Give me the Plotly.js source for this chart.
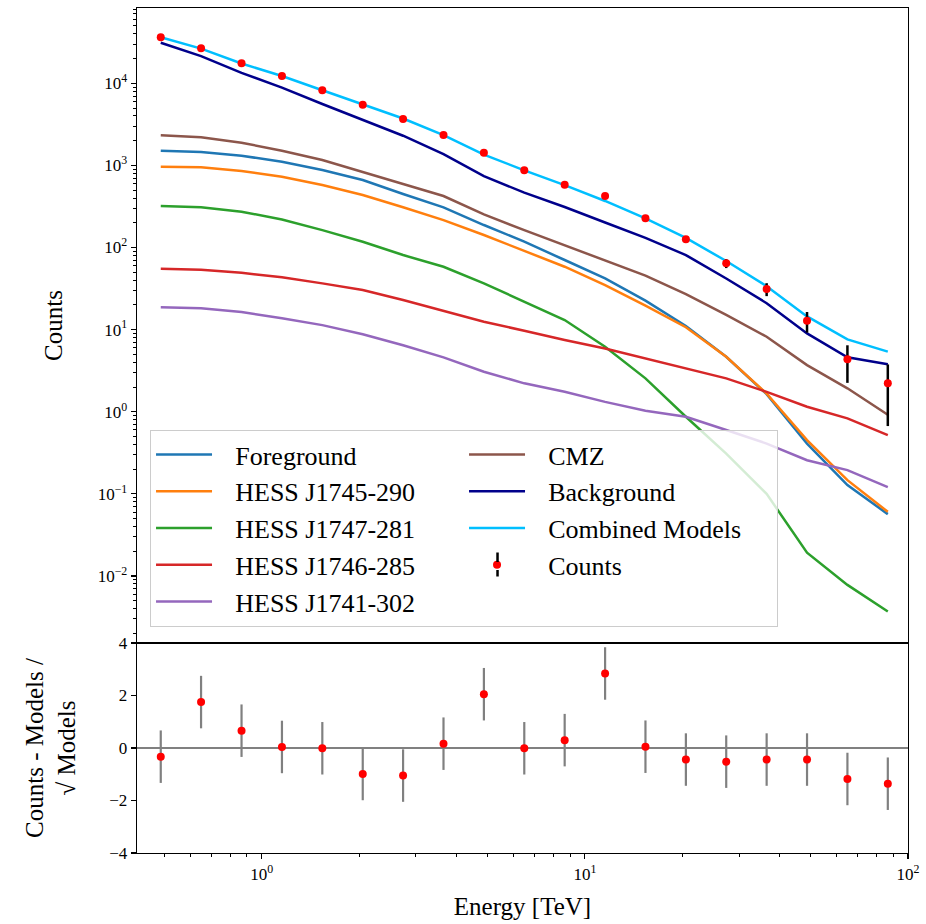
<!DOCTYPE html>
<html>
<head>
<meta charset="utf-8">
<script src="https://cdn.plot.ly/plotly-3.0.1.min.js"></script>
<style>html,body{margin:0;padding:0;background:#fff;}#chart{width:926px;height:924px;}</style>
</head>
<body>
<div id="chart"></div>
<script>
// Energy bin centres [TeV]
const energy = [0.487, 0.649, 0.866, 1.155, 1.540, 2.054, 2.738, 3.652, 4.870, 6.494, 8.660, 11.55, 15.40, 20.54, 27.38, 36.52, 48.70, 64.94, 86.60];

// Model components (counts per bin)
const foreground = [1510, 1455, 1312, 1109, 879, 664, 449, 309, 188, 118, 70.5, 42.2, 22.6, 11.1, 4.68, 1.64, 0.41, 0.128, 0.0567];
const j1745 = [964, 948, 855, 728, 577, 436, 309, 216, 142, 91.4, 58.4, 34.9, 19.6, 10.7, 4.68, 1.66, 0.452, 0.147, 0.0605];
const j1747 = [320, 309, 273, 220, 163, 117.6, 81, 58.4, 36.6, 21.9, 13.1, 6.2, 2.55, 0.87, 0.31, 0.1, 0.0192, 0.0078, 0.0037];
const j1746 = [55.2, 53.7, 49.3, 43.4, 36.6, 30.4, 23.0, 17.0, 12.5, 9.7, 7.47, 5.9, 4.45, 3.38, 2.55, 1.75, 1.15, 0.83, 0.52];
const j1741 = [18.7, 18.2, 16.4, 13.8, 11.35, 8.8, 6.46, 4.6, 3.07, 2.22, 1.75, 1.32, 1.03, 0.87, 0.6, 0.41, 0.257, 0.195, 0.121];
const cmz = [2330, 2200, 1890, 1510, 1164, 838, 593, 424, 253, 163, 107, 70.5, 45.5, 27.1, 15.1, 8.2, 3.7, 1.93, 0.92];
const background = [31200, 21450, 13400, 8870, 5600, 3600, 2300, 1370, 740, 466, 312, 202, 131, 81, 42, 21, 9.0, 4.6, 3.8];
const combined = [36360, 26410, 17410, 12270, 8220, 5550, 3730, 2336, 1355, 871, 575, 369, 226, 131, 68.5, 33.8, 14.5, 7.6, 5.4];

// Observed counts and errors
const counts = [36300, 26700, 17500, 12270, 8220, 5480, 3670, 2344, 1430, 871, 582, 424, 227, 126, 64.2, 31.2, 12.8, 4.35, 2.22];
const countsErr = [190.5, 163.4, 132.3, 110.8, 90.7, 74.0, 60.6, 48.4, 37.8, 29.5, 24.1, 20.6, 15.1, 11.2, 8.0, 5.6, 3.6, 2.1, 1.55];

// Residuals (Counts - Models)/sqrt(Models)
const residual = [-0.33, 1.75, 0.66, 0.04, -0.01, -0.99, -1.05, 0.165, 2.05, -0.01, 0.30, 2.84, 0.05, -0.44, -0.52, -0.44, -0.44, -1.18, -1.36];
const residualErr = [1, 1, 1, 1, 1, 1, 1, 1, 1, 1, 1, 1, 1, 1, 1, 1, 1, 1, 1];

// Legend labels
const seriesNames = ['Foreground', 'HESS J1745-290', 'HESS J1747-281', 'HESS J1746-285', 'HESS J1741-302', 'CMZ', 'Background', 'Combined Models', 'Counts'];

// Tick labels
const countTickVals = [0.01, 0.1, 1, 10, 100, 1000, 10000];
const countTickText = ['10<sup>\u22122</sup>', '10<sup>\u22121</sup>', '10<sup>0</sup>', '10<sup>1</sup>', '10<sup>2</sup>', '10<sup>3</sup>', '10<sup>4</sup>'];
const energyTickVals = [1, 10, 100];
const energyTickText = ['10<sup>0</sup>', '10<sup>1</sup>', '10<sup>2</sup>'];
const residualTickVals = [-4, -2, 0, 2, 4];

const FONT = 'Liberation Serif, Times New Roman, serif';
const LW = 2.5;
const PAD = '\u2002\u2009';

function line(i, y, color, rank) {
  return {x: energy, y: y, name: PAD + seriesNames[i], type: 'scatter', mode: 'lines',
          line: {color: color, width: LW}, xaxis: 'x', yaxis: 'y', legendrank: rank};
}

const traces = [
  line(0, foreground, '#1f77b4', 1),
  line(1, j1745, '#ff7f0e', 3),
  line(2, j1747, '#2ca02c', 5),
  line(3, j1746, '#d62728', 7),
  line(4, j1741, '#9467bd', 9),
  line(5, cmz, '#8c564b', 2),
  line(6, background, '#00008b', 4),
  line(7, combined, '#00bfff', 6),
  {x: energy, y: counts, name: PAD + seriesNames[8], type: 'scatter', mode: 'markers',
   marker: {color: '#ff0000', size: 8},
   error_y: {type: 'data', array: countsErr, visible: true, color: '#000000', thickness: 2.5, width: 0},
   xaxis: 'x', yaxis: 'y', legendrank: 8},
  {x: energy, y: residual, name: 'Residuals', type: 'scatter', mode: 'markers',
   marker: {color: '#ff0000', size: 8},
   error_y: {type: 'data', array: residualErr, visible: true, color: '#808080', thickness: 2.2, width: 0},
   xaxis: 'x2', yaxis: 'y2', showlegend: false}
];

const split = 0.2485;
const baseAxis = {
  showline: true, linecolor: '#000', linewidth: 1.3, mirror: true,
  showgrid: false, zeroline: false,
  tickfont: {family: FONT, size: 17, color: '#000'},
  ticks: 'outside', ticklen: 5, tickwidth: 1.2, tickcolor: '#000'
};

// error-bar glyph for the "Counts" legend entry (legend decoration only)
const legendBar = {color: '#000', width: 2.5};
const legendX = 0.4676;
const annotations = [
  {xref: 'paper', yref: 'paper', x: legendX, y: 0.3444, ax: 0, ay: -11, text: '',
   showarrow: true, arrowhead: 0, arrowwidth: legendBar.width, arrowcolor: legendBar.color, standoff: 0, startstandoff: 0},
  {xref: 'paper', yref: 'paper', x: legendX, y: 0.3349, ax: 0, ay: 8, text: '',
   showarrow: true, arrowhead: 0, arrowwidth: legendBar.width, arrowcolor: legendBar.color, standoff: 0, startstandoff: 0}
];

const layout = {
  width: 926, height: 924,
  margin: {l: 137, r: 18, t: 8, b: 71},
  paper_bgcolor: '#fff', plot_bgcolor: '#fff',
  font: {family: FONT, color: '#000'},
  showlegend: true,
  legend: {
    orientation: 'h', x: 0.0169, y: 0.5006, xanchor: 'left', yanchor: 'top',
    entrywidth: 242, itemwidth: 56, traceorder: 'normal',
    font: {family: FONT, size: 26, color: '#000'},
    bgcolor: 'rgba(255,255,255,0.8)', bordercolor: '#cccccc', borderwidth: 1
  },
  annotations: annotations,
  xaxis: Object.assign({}, baseAxis, {
    type: 'log', range: [-0.386, 2.0], domain: [0, 1], anchor: 'y',
    showticklabels: false, ticks: '', matches: 'x2'
  }),
  yaxis: Object.assign({}, baseAxis, {
    type: 'log', range: [-2.816, 4.917], domain: [split, 1], anchor: 'x',
    tickmode: 'array', tickvals: countTickVals, ticktext: countTickText,
    minor: {ticks: 'outside', ticklen: 3, tickwidth: 1, tickcolor: '#000', dtick: 'D1', showgrid: false},
    title: {text: 'Counts', font: {family: FONT, size: 25, color: '#000'}, standoff: 28}
  }),
  xaxis2: Object.assign({}, baseAxis, {
    type: 'log', range: [-0.386, 2.0], domain: [0, 1], anchor: 'y2',
    tickmode: 'array', tickvals: energyTickVals, ticktext: energyTickText,
    minor: {ticks: 'outside', ticklen: 3, tickwidth: 1, tickcolor: '#000', dtick: 'D1', showgrid: false},
    title: {text: 'Energy [TeV]', font: {family: FONT, size: 25, color: '#000'}, standoff: 14}
  }),
  yaxis2: Object.assign({}, baseAxis, {
    range: [-4, 4], domain: [0, split], anchor: 'x2',
    tickmode: 'array', tickvals: residualTickVals,
    zeroline: true, zerolinecolor: '#808080', zerolinewidth: 2.5,
    title: {text: 'Counts - Models /<br>\u221A Models', font: {family: FONT, size: 25, color: '#000'}, standoff: 26}
  })
};

Plotly.newPlot('chart', traces, layout, {displayModeBar: false, staticPlot: true});
</script>
</body>
</html>
